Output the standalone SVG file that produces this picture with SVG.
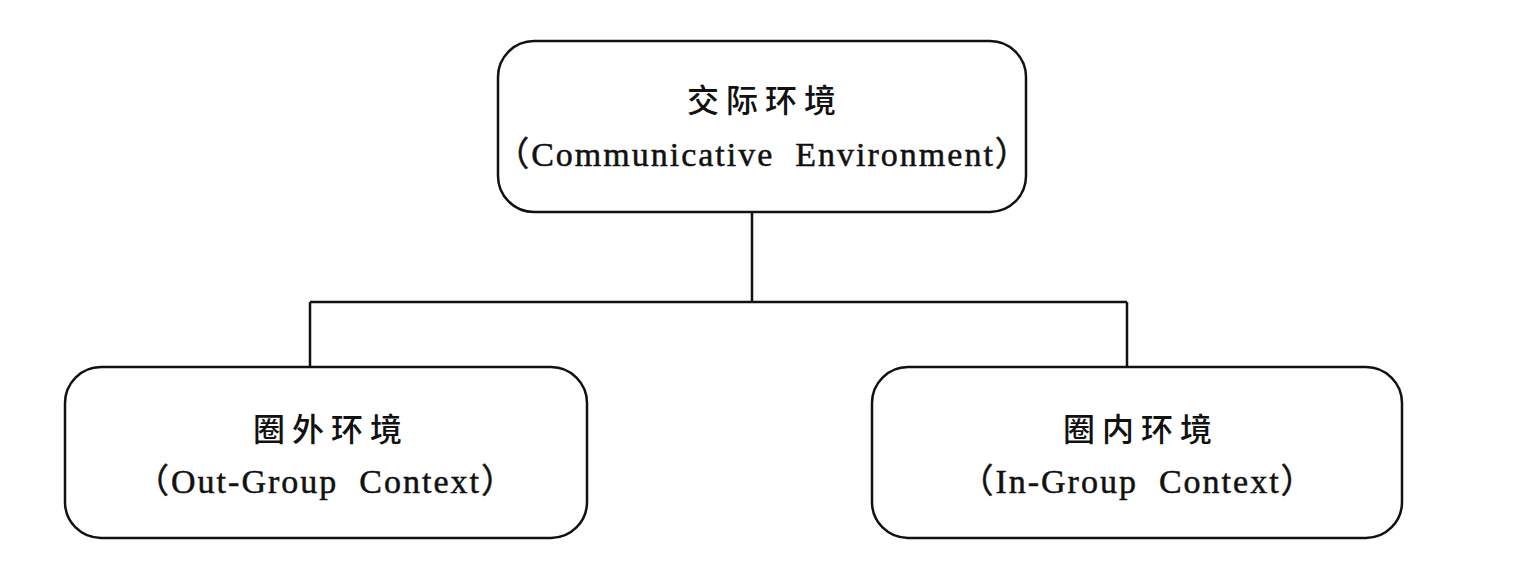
<svg xmlns="http://www.w3.org/2000/svg" width="1517" height="568" viewBox="0 0 1517 568">
<style>
.box{fill:#fff;stroke:#111;stroke-width:2.5}
.cn{font-family:"Noto Sans CJK SC","Noto Sans",sans-serif;font-size:32px;font-weight:500;fill:#111;text-anchor:middle;letter-spacing:7px}
.en{font-family:"Liberation Serif","Noto Sans CJK SC",serif;font-size:34px;fill:#111;stroke:#111;stroke-width:0.5;text-anchor:middle;letter-spacing:2px}
.ln{fill:none;stroke:#111;stroke-width:2.5}
</style>
<rect width="1517" height="568" fill="#fff"/>
<g id="connectors">
<path class="ln" d="M752 212 V302 M310 302 H1127 M310 302 V366 M1127 302 V366"/>
</g>
<g id="top">
<rect class="box" x="498" y="41" width="528" height="171" rx="36"/>
<text class="cn" x="765" y="112">交际环境</text>
<text class="en" x="763" y="166" xml:space="preserve">（Communicative  Environment）</text>
</g>
<g id="out">
<rect class="box" x="65" y="367" width="522" height="171" rx="36"/>
<text class="cn" x="331" y="441">圈外环境</text>
<text class="en" x="326" y="493" xml:space="preserve">（Out-Group  Context）</text>
</g>
<g id="in">
<rect class="box" x="872" y="367" width="530" height="171" rx="36"/>
<text class="cn" x="1141" y="441">圈内环境</text>
<text class="en" x="1138" y="493" xml:space="preserve">（In-Group  Context）</text>
</g>
</svg>
